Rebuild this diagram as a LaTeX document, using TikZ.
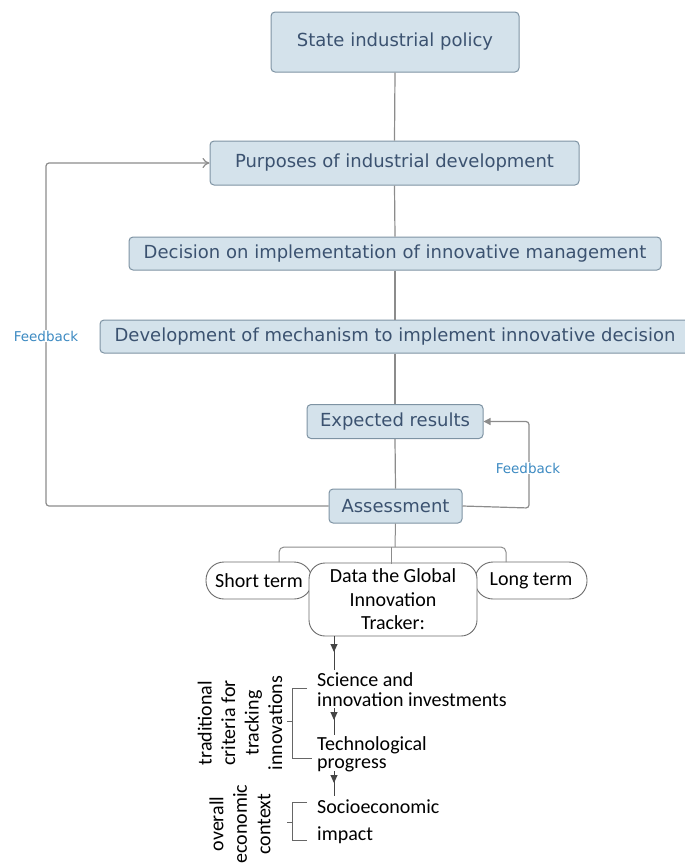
\documentclass[tikz,border=0pt]{standalone}
\usepackage{fontspec}
\setmainfont{DejaVu Sans}
\newfontfamily\calfont{Carlito}
\usetikzlibrary{arrows.meta}
\definecolor{boxfill}{HTML}{D4E2EB}
\definecolor{boxdraw}{HTML}{7E93A3}
\definecolor{boxtext}{HTML}{3B5270}
\definecolor{connc}{HTML}{8C8C8C}
\definecolor{fbtext}{HTML}{3C8AC2}
\definecolor{darkarr}{HTML}{444444}
\begin{document}
\begin{tikzpicture}[x=1pt,y=-1pt,
  bluebox/.style={draw=boxdraw, fill=boxfill, line width=1pt, rounded corners=4pt, text=boxtext, font=\fontsize{18}{21}\selectfont, inner sep=0pt},
  pill/.style={draw=gray!85!black, fill=white, line width=0.9pt, font=\calfont\fontsize{20}{23.5}\selectfont, inner sep=0pt, align=center},
  conn/.style={draw=connc, line width=1.2pt},
  thinconn/.style={draw=gray!80!black, line width=0.9pt},
  fblabel/.style={fill=white, text=fbtext, font=\fontsize{13.5}{15}\selectfont, inner sep=1pt},
  blk/.style={font=\calfont\fontsize{20}{20}\selectfont, inner sep=0pt, anchor=base west},
  rot/.style={font=\calfont\fontsize{20}{23.5}\selectfont, inner sep=0pt, align=center, rotate=90},
  darr/.style={draw=darkarr, line width=0.9pt},
  tip/.style={draw=darkarr, fill=darkarr, line width=0.9pt, -{Triangle[length=8pt,width=7pt]}},
]
\useasboundingbox (0,0) rectangle (685,863);

% upper flow boxes
\node[bluebox, minimum width=248pt, minimum height=60pt] (state) at (395,42) {State industrial policy};
\node[bluebox, minimum width=369pt, minimum height=44pt] (purp) at (394.5,163) {Purposes of industrial development};
\node[bluebox, minimum width=532pt, minimum height=33pt] (dec) at (395,253.5) {Decision on implementation of innovative management};
\node[bluebox, minimum width=590pt, minimum height=33pt] (dev) at (395,336.5) {Development of mechanism to implement innovative decision};
\node[bluebox, minimum width=176pt, minimum height=34pt] (exp) at (395,421.5) {Expected results};
\node[bluebox, minimum width=133pt, minimum height=34pt] (assess) at (395.5,506) {Assessment};

% main vertical connectors
\draw[conn] (state.south) -- (purp.north);
\draw[conn] (purp.south) -- (dec.north);
\draw[conn] (dec.south) -- (dev.north);
\draw[conn] (dev.south) -- (exp.north);
\draw[conn] (exp.south) -- (assess.north);

% left feedback loop
\coordinate (fl1) at (46,506);
\coordinate (fl2) at (46,163);
\draw[conn, rounded corners=3pt, -{To[length=7pt,width=10pt]}] (assess.west) -- (fl1) -- (fl2) -- (purp.west);
\node[fblabel] (fb1) at (46,336) {Feedback};

% right feedback loop
\coordinate (fr1) at (529,508);
\coordinate (fr2) at (529,421.5);
\draw[conn, rounded corners=3pt, -{Triangle[length=7pt,width=7pt]}] (assess.east) -- (fr1) -- (fr2) -- (exp.east);
\node[fblabel] (fb2) at (528,468) {Feedback};

% bottom pills
\node[pill, rounded corners=18pt, minimum width=106pt, minimum height=37pt] (short) at (259,580.5) {Short term};
\node[pill, rounded corners=18pt, minimum width=112pt, minimum height=37pt] (long) at (531,580.5) {Long term};
\node[pill, rounded corners=16pt, minimum width=168pt, minimum height=73pt] (data) at (393,599.5) {Data the Global\\Innovation\\Tracker:};

% bracket from assessment
\coordinate (b0) at (395,547);
\coordinate (bl) at (279,547);
\coordinate (br) at (506,547);
\coordinate (bld) at (279,562);
\coordinate (brd) at (506,562);
\coordinate (bm) at (391,547);
\coordinate (bmd) at (391,563.5);
\draw[conn, line width=1pt] (assess.south) -- (b0);
\draw[conn, line width=1pt, rounded corners=5pt] (bld) -- (bl) -- (br) -- (brd);
\draw[conn, line width=1pt] (bm) -- (bmd);

% texts of the tracker
\node[blk] (sci1) at (317,686) {Science and};
\node[blk] (sci2) at (317,706) {innovation investments};
\node[blk, font=\calfont\fontsize{20}{18}\selectfont, align=left, anchor=north west] (tec) at (317,736) {Technological\\progress};
\node[blk] (soc1) at (317,813) {Socioeconomic};
\node[blk] (soc2) at (317,840) {impact};

% downward arrows
\coordinate (a1s) at (334,636);
\coordinate (a1m) at (334,652);
\coordinate (a1e) at (334,670);
\coordinate (a2s) at (334,708);
\coordinate (a2m) at (334,720);
\coordinate (a2e) at (334,735);
\coordinate (a3s) at (334,771);
\coordinate (a3m) at (334,783);
\coordinate (a3e) at (334,796);
\draw[darr] (a1s) -- (a1e);
\draw[tip] (a1s) -- (a1m);
\draw[darr] (a2s) -- (a2e);
\draw[tip] (a2s) -- (a2m);
\draw[darr] (a3s) -- (a3e);
\draw[tip] (a3s) -- (a3m);

% brackets
\draw[thinconn] (307,688) -- (292,688) -- (292,758) -- (312,758);
\draw[thinconn] (287,721) -- (292,721);
\draw[thinconn] (307,802) -- (292,802) -- (292,840) -- (307,840);
\draw[thinconn] (287,822) -- (292,822);

% rotated labels
\node[rot] (trad) at (240,723) {traditional\\criteria for\\tracking\\innovations};
\node[rot] (ovr) at (240,824) {overall\\economic\\context};
\end{tikzpicture}
\end{document}
